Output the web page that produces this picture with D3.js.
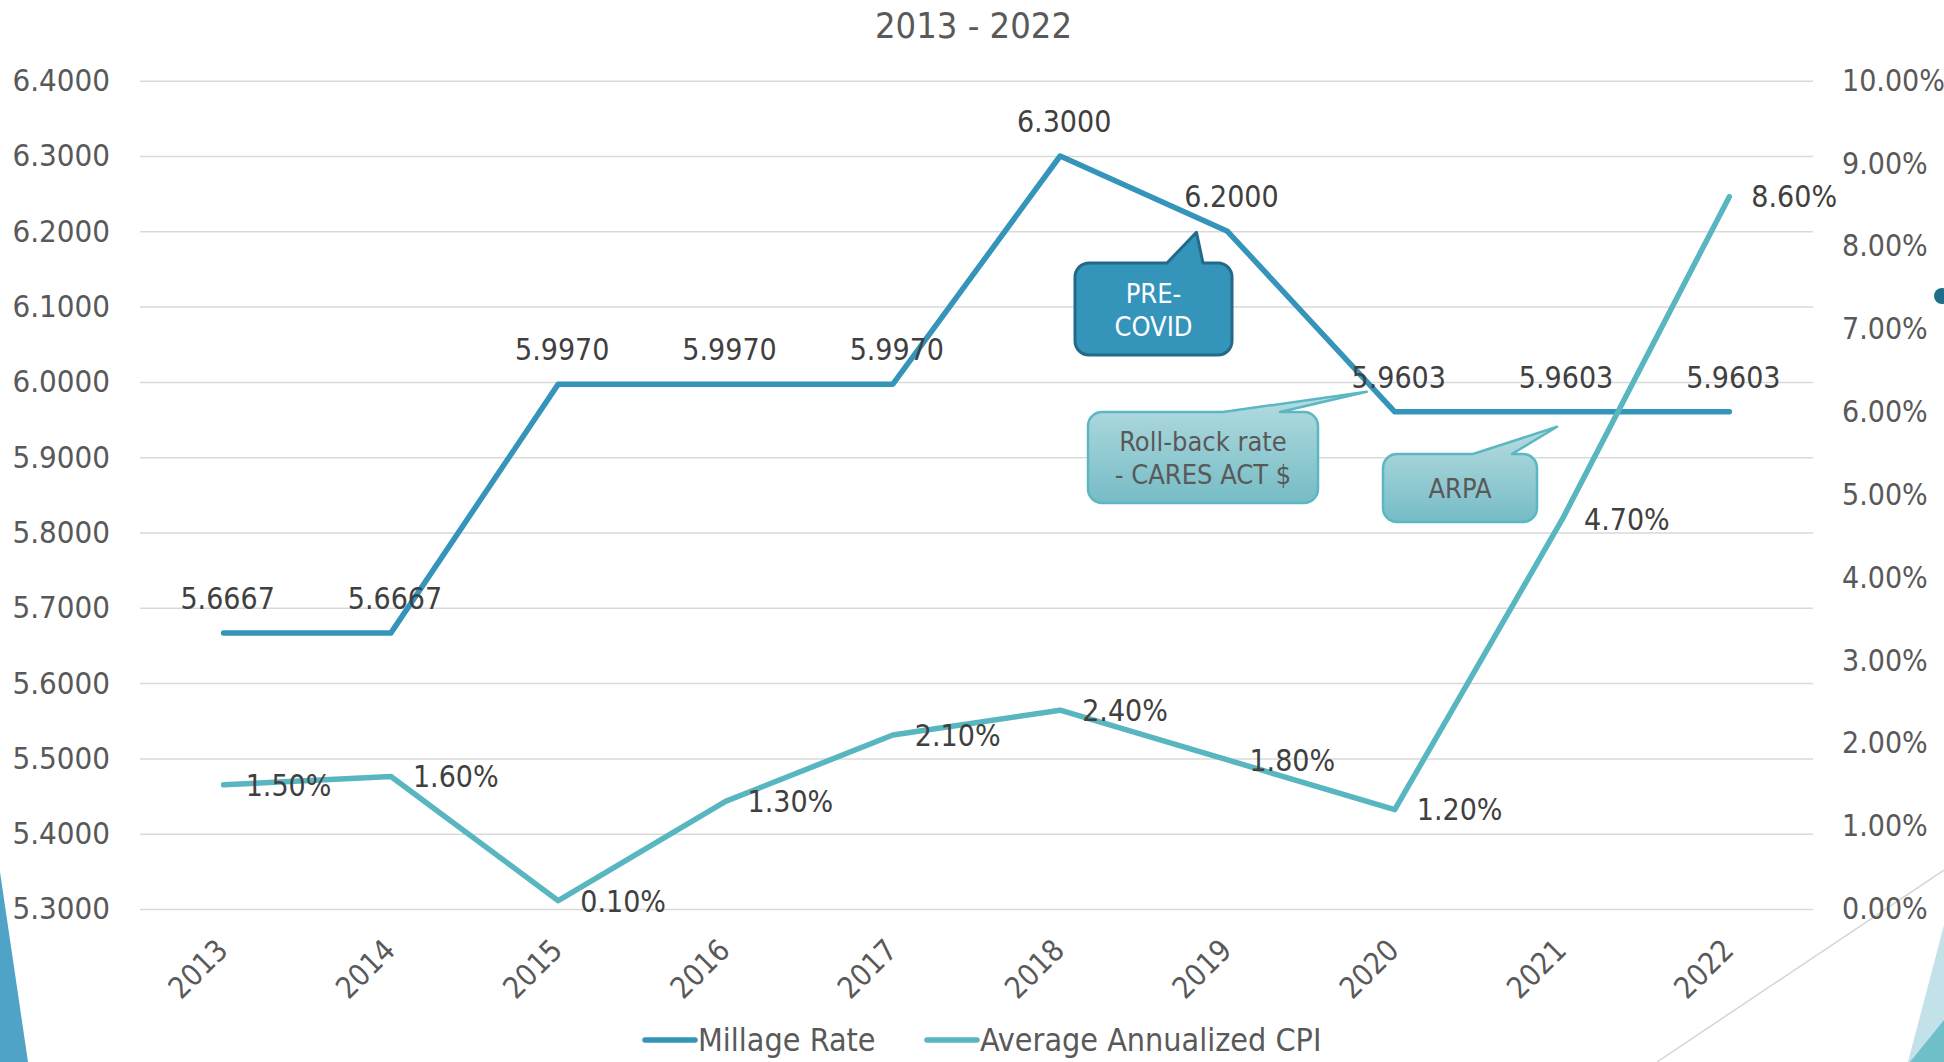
<!DOCTYPE html>
<html>
<head>
<meta charset="utf-8">
<script src="https://cdn.jsdelivr.net/npm/d3@7"></script>
<style>
  html, body { margin: 0; padding: 0; background: #ffffff; }
  svg { display: block; }
  text { font-family: "DejaVu Sans Condensed", "DejaVu Sans", sans-serif; font-stretch: condensed; }
</style>
</head>
<body>
<svg id="chart" width="1944" height="1062"></svg>
<script>
// Millage rate vs. average annualized CPI, 2013 - 2022
const years = ["2013", "2014", "2015", "2016", "2017", "2018", "2019", "2020", "2021", "2022"];
const millageRate = [5.6667, 5.6667, 5.9970, 5.9970, 5.9970, 6.3000, 6.2000, 5.9603, 5.9603, 5.9603];
const avgCPI = [1.50, 1.60, 0.10, 1.30, 2.10, 2.40, 1.80, 1.20, 4.70, 8.60];
const leftTicks = [5.3, 5.4, 5.5, 5.6, 5.7, 5.8, 5.9, 6.0, 6.1, 6.2, 6.3, 6.4];
const rightTicks = [0, 1, 2, 3, 4, 5, 6, 7, 8, 9, 10];
const seriesNames = ["Millage Rate", "Average Annualized CPI"];
const calloutTexts = [["PRE-", "COVID"], ["Roll-back rate", "- CARES ACT $"], ["ARPA"]];

const FONT = "'DejaVu Sans Condensed', 'DejaVu Sans', sans-serif";
const svg = d3.select("#chart");
const plot = { left: 140, right: 1813, top: 80.7, bottom: 909 };
const colMillage = "#3494ba", colCPI = "#58b6c0";
const axisGray = "#595959", labelGray = "#404040";

const x = d3.scaleBand().domain(years).range([plot.left, plot.right]);
const cx = d => x(d) + x.bandwidth() / 2;
const yL = d3.scaleLinear().domain([5.3, 6.4]).range([plot.bottom, plot.top]);
const yR = d3.scaleLinear().domain([0, 10]).range([plot.bottom, plot.top]);

// slide decorations
svg.append("polygon").attr("points", "0,872 28,1062 0,1062").attr("fill", "#4fa3c6");
svg.append("line").attr("x1", 1657).attr("y1", 1062).attr("x2", 1944).attr("y2", 870)
  .attr("stroke", "#d4d4d4").attr("stroke-width", 1.5);
svg.append("polygon").attr("points", "1944,925 1908,1062 1944,1062").attr("fill", "#c3e1e9");
svg.append("polygon").attr("points", "1944,1020 1910,1062 1944,1062").attr("fill", "#6fbfc9");
svg.append("circle").attr("cx", 1942).attr("cy", 296).attr("r", 8).attr("fill", "#1f6e8c");

// title
svg.append("text").attr("x", (plot.left + plot.right) / 2 - 3).attr("y", 38)
  .attr("text-anchor", "middle").attr("font-size", 36).attr("fill", axisGray)
  .text("2013 - 2022");

// gridlines + left axis
const gLeft = svg.append("g").attr("transform", `translate(${plot.left},0)`)
  .call(d3.axisLeft(yL).tickValues(leftTicks).tickFormat(d3.format(".4f"))
    .tickSize(-(plot.right - plot.left)).tickPadding(30));
gLeft.select(".domain").remove();
gLeft.selectAll(".tick line").attr("stroke", "#d9d9d9").attr("stroke-width", 1.5);
gLeft.selectAll(".tick text").attr("font-size", 31).attr("fill", axisGray)
  .style("font-family", FONT);

// right axis
const gRight = svg.append("g").attr("transform", `translate(${plot.right},0)`)
  .call(d3.axisRight(yR).tickValues(rightTicks).tickFormat(d => d3.format(".2f")(d) + "%")
    .tickSize(0).tickPadding(29));
gRight.select(".domain").remove();
gRight.selectAll(".tick text").attr("font-size", 30).attr("fill", axisGray)
  .style("font-family", FONT);

// category labels
svg.append("g").selectAll("text").data(years).join("text")
  .attr("transform", d => `translate(${cx(d) + 6},952) rotate(-45)`)
  .attr("text-anchor", "end").attr("font-size", 30).attr("fill", axisGray)
  .text(d => d);

// lines
const lineL = d3.line().x((d, i) => cx(years[i])).y(d => yL(d));
const lineR = d3.line().x((d, i) => cx(years[i])).y(d => yR(d));
svg.append("path").attr("d", lineL(millageRate)).attr("fill", "none")
  .attr("stroke", colMillage).attr("stroke-width", 5.5)
  .attr("stroke-linecap", "round").attr("stroke-linejoin", "round");
svg.append("path").attr("d", lineR(avgCPI)).attr("fill", "none")
  .attr("stroke", colCPI).attr("stroke-width", 5.5)
  .attr("stroke-linecap", "round").attr("stroke-linejoin", "round");

// data labels
svg.append("g").selectAll("text").data(millageRate).join("text")
  .attr("x", (d, i) => cx(years[i]) + 4).attr("y", d => yL(d) - 24)
  .attr("text-anchor", "middle").attr("font-size", 30).attr("fill", labelGray)
  .text(d => d3.format(".4f")(d));
svg.append("g").selectAll("text").data(avgCPI).join("text")
  .attr("x", (d, i) => cx(years[i]) + 22).attr("y", d => yR(d)).attr("dy", "0.36em")
  .attr("font-size", 30).attr("fill", labelGray)
  .text(d => d3.format(".2f")(d) + "%");

// callouts
const defs = svg.append("defs");
const grad = defs.append("linearGradient").attr("id", "calloutFill")
  .attr("x1", 0).attr("y1", 0).attr("x2", 0).attr("y2", 1);
grad.append("stop").attr("offset", "0%").attr("stop-color", "#b6dde2");
grad.append("stop").attr("offset", "100%").attr("stop-color", "#76bcc5");

function callout(box, base, tip, lines, style) {
  const { x0, y0, x1, y1 } = box, r = 14;
  const p = d3.path();
  p.moveTo(x0 + r, y0);
  p.lineTo(base[0], y0);
  p.lineTo(tip[0], tip[1]);
  p.lineTo(base[1], y0);
  p.lineTo(x1 - r, y0);
  p.arcTo(x1, y0, x1, y0 + r, r);
  p.lineTo(x1, y1 - r);
  p.arcTo(x1, y1, x1 - r, y1, r);
  p.lineTo(x0 + r, y1);
  p.arcTo(x0, y1, x0, y1 - r, r);
  p.lineTo(x0, y0 + r);
  p.arcTo(x0, y0, x0 + r, y0, r);
  p.closePath();
  svg.append("path").attr("d", p.toString())
    .attr("fill", style.fill).attr("stroke", style.stroke).attr("stroke-width", style.sw)
    .attr("stroke-linejoin", "round");
  const midX = (x0 + x1) / 2;
  const lh = 33;
  const firstBase = (y0 + y1) / 2 - (lines.length - 1) * lh / 2 + 10;
  svg.append("text").attr("text-anchor", "middle").attr("font-size", 27)
    .attr("fill", style.text)
    .selectAll("tspan").data(lines).join("tspan")
    .attr("x", midX).attr("y", (d, i) => firstBase + i * lh).text(d => d);
}

const darkStyle = { fill: "#3594ba", stroke: "#23698a", sw: 3, text: "#ffffff" };
const lightStyle = { fill: "url(#calloutFill)", stroke: "#5cb7c2", sw: 2.5, text: "#595959" };

// PRE-COVID points at the 2019 rate
const p19 = [cx("2019"), yL(millageRate[6])];
callout({ x0: 1075, y0: 263, x1: 1232, y1: 355 }, [1167, 1203], [p19[0] - 31, p19[1] + 1],
  calloutTexts[0], darkStyle);
// Roll-back points at the 2020 rate
const p20 = [cx("2020"), yL(millageRate[7])];
callout({ x0: 1088, y0: 412, x1: 1318, y1: 503 }, [1223, 1280], [p20[0] - 28, p20[1] - 20],
  calloutTexts[1], lightStyle);
// ARPA points at the 2021 rate
const p21 = [cx("2021"), yL(millageRate[8])];
callout({ x0: 1383, y0: 454, x1: 1537, y1: 522 }, [1473, 1512], [p21[0] - 5, p21[1] + 15],
  calloutTexts[2], lightStyle);

// legend
const legend = svg.append("g");
const legItems = [
  { name: seriesNames[0], color: colMillage, x: 642 },
  { name: seriesNames[1], color: colCPI, x: 924 }
];
legItems.forEach(it => {
  legend.append("line").attr("x1", it.x + 3).attr("x2", it.x + 53)
    .attr("y1", 1040).attr("y2", 1040)
    .attr("stroke", it.color).attr("stroke-width", 5.5).attr("stroke-linecap", "round");
  legend.append("text").attr("x", it.x + 56).attr("y", 1040).attr("dy", "0.35em")
    .attr("font-size", 32).attr("fill", axisGray).text(it.name);
});
</script>
</body>
</html>
